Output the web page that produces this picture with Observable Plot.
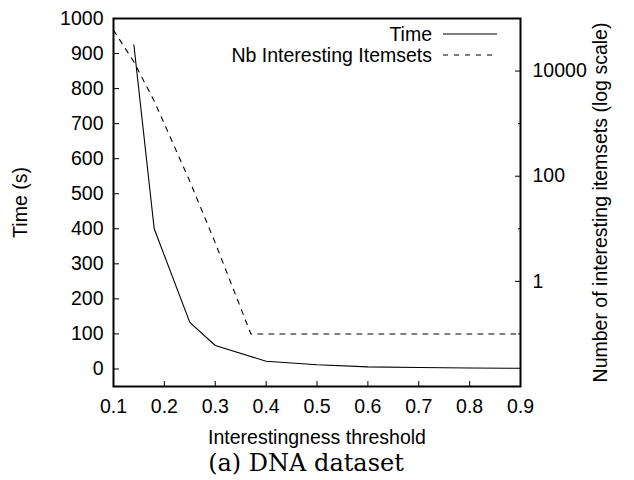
<!DOCTYPE html>
<html><head><meta charset="utf-8">
<script src="https://cdn.jsdelivr.net/npm/d3@7"></script>
<script src="https://cdn.jsdelivr.net/npm/@observablehq/plot@0.6"></script>
<style>
body{margin:0;background:#fff;}
#wrap{position:relative;width:634px;height:450px;}
#wrap svg{position:absolute;left:0;top:0;}
#cap{width:612px;text-align:center;font-family:"DejaVu Serif",serif;font-size:24px;line-height:26px;margin-top:0;color:#000;}
</style></head><body>
<div id="wrap"></div>
<div id="cap">(a) DNA dataset</div>
<script>
// ---- data ----
const timeThresholds = [0.14, 0.18, 0.25, 0.3, 0.4, 0.5, 0.6, 0.7, 0.8, 0.9];
const timeSeconds    = [925, 400, 133, 67, 22, 12, 6, 4, 3, 2];
const itemsetThresholds = [0.1, 0.14, 0.18, 0.25, 0.3, 0.37, 0.4, 0.5, 0.6, 0.7, 0.8, 0.9];
const nbItemsets        = [60000, 15000, 2700, 80, 5.4, 0.1, 0.1, 0.1, 0.1, 0.1, 0.1, 0.1];
const xTicks = [0.1, 0.2, 0.3, 0.4, 0.5, 0.6, 0.7, 0.8, 0.9];
const timeTicks = [0, 100, 200, 300, 400, 500, 600, 700, 800, 900, 1000];
const itemsetMajorTicks = [1, 100, 10000];
const itemsetMinorTicks = [0.1, 10, 1000];
const seriesLabels = ["Time", "Nb Interesting Itemsets"];

const timeData = timeThresholds.map((t, i) => ({t, v: timeSeconds[i]}));
const itemData = itemsetThresholds.map((t, i) => ({t, v: nbItemsets[i]}));

const font = "'Liberation Sans', Arial, Helvetica, sans-serif";
const fs = "19.5px";
const dims = {width: 634, height: 450, marginTop: 18, marginRight: 114, marginBottom: 64, marginLeft: 113};

const p1 = Plot.plot({
  ...dims,
  style: {fontFamily: font, fontSize: fs, color: "#000", background: "white"},
  x: {domain: [0.1, 0.9]},
  y: {domain: [-50, 1000]},
  marks: [
    Plot.axisX(xTicks, {tickSize: -5, tickPadding: 18, tickFormat: d3.format(".1f"),
      label: "Interestingness threshold", labelAnchor: "center", labelOffset: 57, labelArrow: "none"}),
    Plot.axisY(timeTicks, {tickSize: -6, tickPadding: 16, tickFormat: "d",
      label: "Time (s)", labelAnchor: "center", labelOffset: 100, labelArrow: "none"}),
    Plot.line(timeData, {x: "t", y: "v", stroke: "#000", strokeWidth: 1.1}),
    Plot.frame({stroke: "#000", strokeWidth: 2})
  ]
});

const p2 = Plot.plot({
  ...dims,
  style: {fontFamily: font, fontSize: fs, color: "#000", background: "transparent"},
  x: {domain: [0.1, 0.9], axis: null},
  y: {type: "log", domain: [0.01, 1e5]},
  marks: [
    Plot.axisY(itemsetMajorTicks, {anchor: "right", tickSize: -6, tickPadding: 18, tickFormat: "d",
      label: "Number of interesting itemsets (log scale)", labelAnchor: "center", labelOffset: 86, labelArrow: "none"}),
    Plot.axisY(itemsetMinorTicks, {anchor: "right", tickSize: -3, tickFormat: () => "", label: null}),
    Plot.line(itemData, {x: "t", y: "v", stroke: "#000", strokeWidth: 1.1, strokeDasharray: "5,6"})
  ]
});

document.getElementById("wrap").append(p1, p2);

// legend (inside the frame, top right)
const lg = d3.select(p2).append("g").attr("font-family", font).attr("font-size", 19.5);
seriesLabels.forEach((name, i) => {
  const y = 34 + i * 21;
  lg.append("text").attr("x", 432).attr("y", y).attr("dy", "0.35em")
    .attr("text-anchor", "end").attr("fill", "#000").text(name);
  lg.append("line").attr("x1", 443).attr("x2", 497).attr("y1", y).attr("y2", y)
    .attr("stroke", "#000").attr("stroke-width", 1.1)
    .attr("stroke-dasharray", i === 1 ? "5,6" : null);
});
</script>
</body></html>
